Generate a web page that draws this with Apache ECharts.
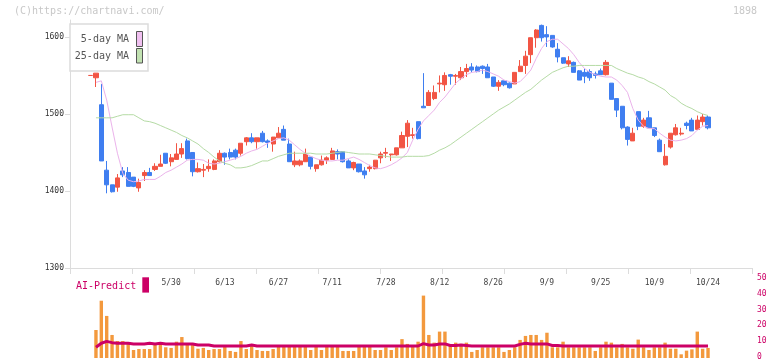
<!DOCTYPE html>
<html><head><meta charset="utf-8">
<script src="https://cdn.jsdelivr.net/npm/echarts@6/dist/echarts.min.js"></script>
<style>html,body{margin:0;padding:0;background:#fff}#c{width:772px;height:361px}</style>
</head><body><div id="c"></div>
<script>
const categories = ['5/9','5/12','5/13','5/14','5/15','5/16','5/19','5/20','5/21','5/22','5/23','5/26','5/27','5/28','5/29','5/30',
'6/2','6/3','6/4','6/5','6/6','6/9','6/10','6/11','6/12','6/13','6/16','6/17','6/18','6/19','6/20','6/23','6/24','6/25','6/26','6/27',
'6/30','7/1','7/2','7/3','7/4','7/7','7/8','7/9','7/10','7/11','7/14','7/15','7/16','7/17','7/18','7/22','7/23','7/24','7/25','7/28',
'7/29','7/30','7/31','8/1','8/4','8/5','8/6','8/7','8/8','8/12','8/13','8/14','8/15','8/18','8/19','8/20','8/21','8/22','8/25','8/26',
'8/27','8/28','8/29','9/1','9/2','9/3','9/4','9/5','9/8','9/9','9/10','9/11','9/12','9/16','9/17','9/18','9/19','9/22','9/24','9/25',
'9/26','9/29','9/30','10/1','10/2','10/3','10/6','10/7','10/8','10/9','10/10','10/14','10/15','10/16','10/17','10/20','10/21','10/22','10/23','10/24'];
const tickLabels = ['5/30','6/13','6/27','7/11','7/28','8/12','8/26','9/9','9/25','10/9','10/24'];
const priceTicks = [1300,1400,1500,1600];
const volumeTicks = [0,10,20,30,40,50];

const opens = [1550,1547,1512,1427,1408,1405,1426,1424,1418,1404,1420,1424,1428,1432,1449,1438,1441,1448,1465,1450,
1425,1427,1429,1428,1438,1449,1450,1453,1449,1464,1469,1464,1475,1465,1461,1469,1480,1461,1434,1434,
1438,1444,1429,1434,1440,1441,1451,1451,1439,1430,1435,1426,1429,1429,1443,1449,1447,1447,1456,1471,
1472,1490,1510,1511,1520,1539,1538,1551,1549,1547,1555,1561,1561,1562,1561,1548,1536,1543,1540,1539,
1555,1563,1577,1599,1615,1603,1602,1584,1573,1565,1567,1556,1554,1555,1552,1556,1551,1540,1520,1510,
1483,1465,1503,1484,1495,1482,1466,1434,1457,1473,1474,1488,1492,1480,1490,1496];
const closes = [1550,1553,1439,1408,1399,1417,1421,1406,1406,1411,1424,1420,1432,1435,1436,1443,1448,1455,1442,1425,
1429,1428,1432,1439,1449,1444,1444,1444,1462,1469,1464,1469,1464,1463,1470,1475,1466,1438,1439,1439,
1448,1432,1434,1440,1443,1452,1448,1438,1430,1437,1425,1421,1431,1440,1448,1450,1448,1456,1472,1488,
1473,1468,1508,1528,1528,1540,1550,1549,1550,1555,1559,1557,1555,1559,1547,1536,1541,1538,1534,1554,
1562,1575,1599,1609,1599,1600,1587,1574,1566,1569,1554,1544,1549,1547,1550,1551,1567,1519,1505,1482,
1467,1475,1484,1492,1482,1472,1451,1445,1475,1482,1475,1485,1478,1492,1496,1482];
const lows = [1550,1535,1439,1397,1398,1399,1418,1406,1405,1399,1413,1420,1426,1432,1435,1432,1441,1443,1441,1419,
1424,1418,1425,1427,1437,1434,1441,1441,1446,1459,1462,1455,1463,1456,1451,1469,1466,1438,1431,1432,
1438,1428,1425,1433,1435,1441,1441,1437,1430,1427,1424,1416,1425,1428,1436,1443,1439,1446,1456,1457,
1468,1467,1508,1511,1518,1528,1530,1538,1538,1544,1548,1554,1554,1552,1547,1535,1530,1536,1533,1539,
1555,1552,1566,1586,1594,1587,1586,1567,1565,1561,1554,1544,1540,1543,1546,1551,1550,1519,1496,1480,
1459,1465,1479,1482,1482,1470,1451,1433,1455,1472,1472,1480,1478,1480,1485,1480];
const highs = [1550,1553,1539,1439,1408,1422,1431,1431,1418,1416,1427,1430,1436,1447,1449,1448,1462,1462,1468,1450,
1437,1435,1441,1441,1453,1450,1455,1455,1462,1470,1475,1469,1478,1467,1470,1483,1485,1468,1451,1441,
1455,1444,1434,1446,1445,1456,1454,1451,1441,1438,1435,1431,1434,1440,1451,1456,1448,1456,1477,1492,
1482,1490,1553,1531,1537,1550,1554,1552,1552,1561,1565,1566,1563,1563,1565,1548,1544,1543,1541,1554,
1570,1582,1599,1610,1616,1614,1602,1592,1573,1575,1568,1557,1559,1558,1555,1559,1570,1540,1520,1510,
1484,1482,1503,1495,1504,1482,1468,1461,1475,1487,1482,1490,1495,1498,1500,1498];

const ma5 = ['-',1541,1543,1518,1483,1449,1423,1414,1412,1413,1415,
1415,1415,1419,1424,1427,1431,1435,1440,1441,1441,
1440,1436,1435,1436,1438,1440,1442,1445,1449,1452,
1454,1458,1462,1465,1468,1469,1466,1460,1454,1449,
1445,1442,1440,1439,1439,1440,1440,1442,1444,1441,
1437,1433,1430,1429,1431,1434,1438,1443,1450,1466,
1480,1491,1498,1505,1515,1522,1531,1540,1546,1551,
1554,1555,1557,1555,1552,1549,1544,1542,1540,1542,
1549,1557,1572,1585,1594,1597,1597,1591,1585,1577,
1567,1559,1554,1551,1549,1548,1548,1544,1537,1528,
1507,1492,1484,1481,1481,1475,1470,1466,1465,1466,
1468,1472,1479,1484,1485];
const ma25 = ['-',1495,1495,1495,1495,1497,1499,1499,1499,1495,1491,
1490,1488,1485,1482,1479,1476,1472,1469,1465,1461,
1455,1450,1444,1439,1436,1434,1430,1430,1431,1433,
1436,1439,1439,1442,1445,1447,1449,1449,1449,1449,
1449,1448,1448,1448,1449,1450,1451,1450,1449,1448,
1448,1448,1447,1446,1445,1444,1444,1444,1445,1445,
1445,1445,1446,1449,1453,1456,1460,1465,1470,1475,
1480,1485,1490,1495,1500,1505,1509,1513,1518,1523,
1528,1532,1538,1544,1549,1554,1557,1560,1562,1562,
1563,1563,1563,1563,1563,1563,1563,1559,1556,1553,
1551,1548,1546,1542,1539,1535,1531,1524,1520,1514,
1510,1507,1503,1500,1498];

const volume = [0,17.5,35.8,26.3,14.4,10.6,10.6,9.2,5,5.6,5.6,
5.6,8.1,9.2,6.7,6.3,10.2,13.1,9.2,9.2,5.8,
6.3,5,5.6,5.6,7.5,4.4,3.8,10.6,5.6,7.5,
5,4.4,4.4,5.6,7.5,7.5,7.5,7.5,7.5,7.5,
5,7.5,5,7.5,7.5,7.5,4.4,4.4,4.4,7.5,
7.5,7.5,5,5,6.7,5,6.7,11.8,8.8,7.5,
10.2,39,14.4,9.6,16.5,16.5,7.5,9.6,8.8,9.6,
3.8,5,6.7,6.7,6.7,6.7,3.8,5,6.7,11.3,
13.8,14.4,14.4,11.3,15.8,6.7,6.7,10.2,6.7,6.7,
6.7,6.7,6.7,4.4,6.7,10.2,9.6,6.7,8.8,6.7,
5.8,11.5,6.7,5,6.7,6.7,9.6,5.8,5.8,2.3,
4.6,5.4,16.5,5.8,6.3];
const aiPredict = ['-',6.7,9.2,10.4,9.6,9.2,9.2,9.2,8.8,8.8,8.8,
9.2,8.8,9.2,8.8,8.8,8.8,8.8,8.8,8.8,8.1,
8.1,8.1,7.5,7.5,7.5,7.5,7.5,7.5,7.5,8.1,
7.5,7.5,7.5,7.5,7.5,7.5,7.5,7.5,7.5,7.5,
7.5,7.5,7.5,7.5,7.5,7.5,7.5,7.5,7.5,7.5,
7.5,7.5,7.5,7.5,7.5,7.5,7.5,7.5,7.5,7.5,
7.5,9.0,8.1,8.1,8.8,8.8,7.8,7.8,8.1,7.8,
7.5,7.5,7.5,7.5,7.5,7.5,7.5,7.5,7.5,8.5,
9.2,8.8,8.8,8.8,8.8,7.8,7.8,7.5,7.5,7.5,
7.5,7.5,7.5,7.5,7.5,7.5,7.5,7.5,7.5,7.5,
7.5,7.5,7.5,7.5,7.5,7.5,7.5,7.5,7.5,7.5,
7.5,7.5,7.5,7.5,7.5];

const ohlc = opens.map((o, i) => [o, closes[i], lows[i], highs[i]]);
const MONO = 'DejaVu Sans Mono';
const UP = '#f25544', DOWN = '#3f7ef0';
const PLOT_L = 87.9, PLOT_W = 622.8;

const chart = echarts.init(document.getElementById('c'), null, {renderer: 'canvas'});
chart.setOption({
  animation: false,
  backgroundColor: '#fff',
  grid: [
    {left: 70, right: 20, top: 20, bottom: 93},
    {left: PLOT_L, width: PLOT_W, top: 20, bottom: 93},
    {left: PLOT_L, width: PLOT_W, top: 278, bottom: 3},
    {left: 70, right: 20, top: 278, bottom: 3}
  ],
  xAxis: [
    {gridIndex: 0, type: 'value', min: 0, max: 682, interval: 62,
     axisLine: {show: true, lineStyle: {color: '#dcdcdc', width: 1}},
     axisTick: {show: true, length: 6, lineStyle: {color: '#dcdcdc'}},
     axisLabel: {show: false}, splitLine: {show: false}},
    {gridIndex: 1, type: 'category', data: categories, boundaryGap: true,
     axisLine: {show: false}, axisTick: {show: false}, splitLine: {show: false},
     axisLabel: {show: true, interval: (idx, val) => tickLabels.includes(val), margin: 11,
       fontSize: 8, color: '#444', fontFamily: MONO}},
    {gridIndex: 2, type: 'category', data: categories, boundaryGap: true, show: false},
    {gridIndex: 3, type: 'value', min: 0, max: 1, show: false}
  ],
  yAxis: [
    {gridIndex: 0, type: 'value', min: 1300, max: 1622,
     axisLine: {show: true, lineStyle: {color: '#dcdcdc', width: 1}},
     axisTick: {show: true, length: 5, customValues: priceTicks, lineStyle: {color: '#dcdcdc'}},
     axisLabel: {show: true, customValues: priceTicks, formatter: v => String(v),
       fontSize: 8, color: '#333', fontFamily: MONO, margin: 6},
     splitLine: {show: false}},
    {gridIndex: 1, type: 'value', min: 1300, max: 1622, show: false, splitLine: {show: false}},
    {gridIndex: 2, type: 'value', min: 0, max: 50, show: false, splitLine: {show: false}},
    {gridIndex: 3, type: 'value', position: 'right', min: 0, max: 50, interval: 10,
     axisLine: {show: false}, axisTick: {show: false}, splitLine: {show: false},
     axisLabel: {show: true, customValues: volumeTicks, formatter: v => String(v),
       fontSize: 8, color: '#cc0066', fontFamily: MONO, margin: 5}}
  ],
  series: [
    {type: 'candlestick', xAxisIndex: 1, yAxisIndex: 1, data: ohlc, barWidth: 4.6, clip: false,
     itemStyle: {color: UP, color0: DOWN, borderColor: UP, borderColor0: DOWN, borderColorDoji: UP, borderWidth: 1}},
    {type: 'line', xAxisIndex: 1, yAxisIndex: 1, data: ma5, symbol: 'none', clip: false,
     lineStyle: {color: '#ebb3eb', width: 1}, z: 3},
    {type: 'line', xAxisIndex: 1, yAxisIndex: 1, data: ma25, symbol: 'none', clip: false,
     lineStyle: {color: '#b5dba5', width: 1}, z: 3},
    {type: 'bar', xAxisIndex: 2, yAxisIndex: 2, data: volume, barWidth: 3.4,
     itemStyle: {color: '#f3993d'}},
    {type: 'line', xAxisIndex: 2, yAxisIndex: 2, data: aiPredict, symbol: 'none',
     lineStyle: {color: '#cc0066', width: 3}, z: 4}
  ],
  graphic: [
    {type: 'text', left: 14, top: 6, style: {text: '(C)https://chartnavi.com/', font: '10px ' + MONO, fill: '#c8c8c8'}},
    {type: 'text', right: 15, top: 6, style: {text: '1898', font: '10px ' + MONO, fill: '#c8c8c8'}},
    {type: 'rect', shape: {x: 70, y: 24, width: 78, height: 47}, style: {fill: '#fff', stroke: '#dcdcdc', lineWidth: 1.5}, z: 10},
    {type: 'text', x: 129, y: 39, z: 11, style: {text: '5-day MA', font: '10px ' + MONO, fill: '#555', align: 'right', verticalAlign: 'middle'}},
    {type: 'text', x: 129, y: 56, z: 11, style: {text: '25-day MA', font: '10px ' + MONO, fill: '#555', align: 'right', verticalAlign: 'middle'}},
    {type: 'rect', z: 11, shape: {x: 136.5, y: 31.5, width: 6, height: 15}, style: {fill: '#f0c0f0', stroke: '#555', lineWidth: 1}},
    {type: 'rect', z: 11, shape: {x: 136.5, y: 48.5, width: 6, height: 14.5}, style: {fill: '#c2e2b2', stroke: '#555', lineWidth: 1}},
    {type: 'text', x: 76, y: 286, style: {text: 'AI-Predict', font: '10px ' + MONO, fill: '#cc0066', verticalAlign: 'middle'}},
    {type: 'rect', shape: {x: 142.3, y: 277.3, width: 6.7, height: 15.3}, style: {fill: '#cc0066'}}
  ]
});
</script></body></html>
